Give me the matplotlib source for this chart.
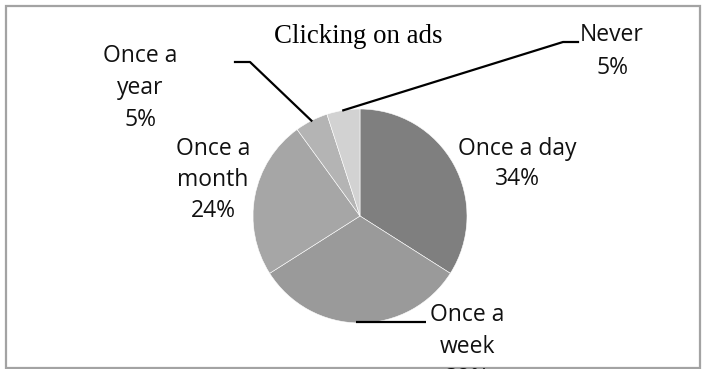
import matplotlib.pyplot as plt
import numpy as np
from matplotlib.patches import Rectangle

labels = ["Once a day", "Once a week", "Once a month", "Once a year", "Never"]
shares = [34, 32, 24, 5, 5]
colors = ["#7f7f7f", "#9a9a9a", "#a6a6a6", "#b4b4b4", "#d2d2d2"]
title = "Clicking on ads"

W, H = 704, 369
fig = plt.figure(figsize=(W / 100, H / 100), dpi=100)
ax = fig.add_axes([0, 0, 1, 1])

cx, cy, r = 360, H - 216, 107
ax.pie(shares, colors=colors, startangle=90, counterclock=False,
       center=(cx, cy), radius=r,
       wedgeprops=dict(edgecolor="white", linewidth=0.4))
ax.set_xlim(0, W)
ax.set_ylim(0, H)
ax.set_aspect("equal")
ax.axis("off")

# outer frame
ax.add_patch(Rectangle((6, 1), 694, H - 7, fill=False,
                       edgecolor="#a3a3a3", linewidth=1.6))

ax.text(358, H - 43, title, family="Liberation Serif", fontsize=19.4,
        ha="center", va="baseline")

# mid angle of every wedge, in degrees
ends = 90 - 3.6 * np.cumsum(shares)
mids = ends + 1.8 * np.array(shares)


def edge_point(i):
    a = np.radians(mids[i])
    return cx + r * np.cos(a), cy + r * np.sin(a)


def label(x, y, lines, step=32):
    for k, s in enumerate(lines):
        ax.text(x, H - (y + k * step), s, family="Open Sans", fontsize=16.5,
                ha="center", va="baseline", color="#111111")


def pct(i):
    return f"{shares[i]}%"


label(517, 155, ["Once a day", pct(0)], step=30)
label(467, 321, ["Once a", "week", pct(1)], step=32)
label(213, 155, ["Once a", "month", pct(2)], step=31)
label(140, 62, ["Once a", "year", pct(3)], step=32)
label(612, 41, ["Never", pct(4)], step=33)

# leader lines
lw = 1.6
px, py = edge_point(1)
ax.plot([px - 4, 426], [py + 1, py + 1], color="black", lw=lw,
        solid_capstyle="butt")
px, py = edge_point(3)
ax.plot([px, 250, 235], [py, H - 62, H - 62], color="black", lw=lw)
px, py = edge_point(4)
ax.plot([px, 563, 578], [py, H - 42, H - 42], color="black", lw=lw)

fig.savefig("out.png", dpi=100, facecolor="white")
